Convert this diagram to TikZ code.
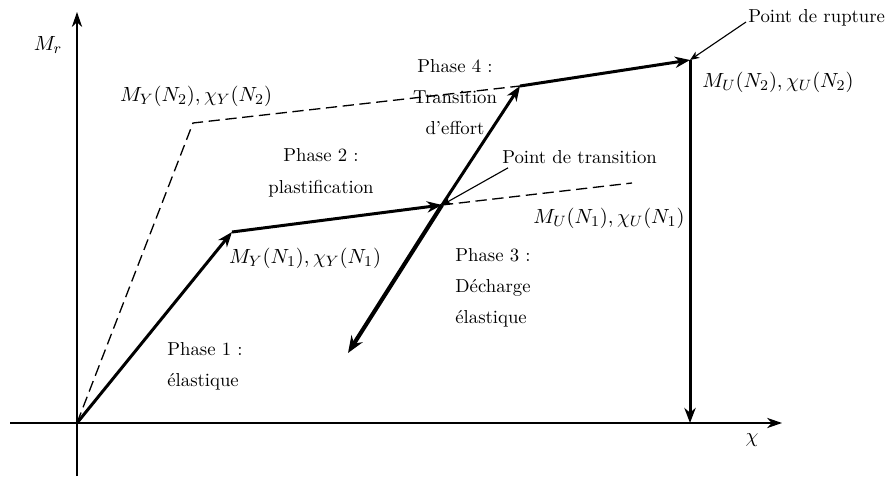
\documentclass[tikz,border=0pt]{standalone}
\usepackage{amsmath, amssymb}
\usetikzlibrary{arrows.meta}

\tikzset{
  axis/.style={line width=0.8pt,-{Stealth[length=8pt,width=5.5pt,inset=2.5pt]}},
  path/.style={line width=1.6pt,-{Stealth[length=8pt,width=6pt,inset=2.5pt]}},
  unload/.style={line width=2.2pt,-{Stealth[length=9pt,width=7pt,inset=3pt]}},
  limit/.style={line width=0.7pt,dash pattern=on 6pt off 3pt},
  note/.style={line width=0.6pt,-{Stealth[length=5pt,width=4pt,inset=1.5pt]}},
  phase/.style={inner sep=0pt},
  mlabel/.style={font=\fontsize{10.8}{13}\selectfont}
}

\begin{document}
\begin{tikzpicture}[x=0.01875cm,y=-0.01875cm]

\useasboundingbox (0,0) rectangle (888,477);

% axes
\coordinate (O) at (77,423);
\coordinate (xa) at (10,423);
\coordinate (xb) at (782,423);
\coordinate (ya) at (77,476);
\coordinate (yb) at (77,12);
\draw[axis] (xa) -- (xb);
\draw[axis] (ya) -- (yb);

% points
\coordinate (Y1) at (232,232); % M_Y(N_1)
\coordinate (T) at (442,205);  % transition
\coordinate (E1) at (632,183);
\coordinate (Y2) at (193,123); % M_Y(N_2)
\coordinate (S) at (520,86);
\coordinate (U) at (690,60);   % rupture
\coordinate (Ux) at (690,423);
\coordinate (D) at (348,353);

% N_2 and N_1 limits
\draw[limit] (O) -- (Y2) -- (S);
\draw[limit] (T) -- (E1);

% loading path
\draw[path] (O) -- (Y1);
\draw[path] (Y1) -- (T);
\draw[path] (T) -- (S);
\draw[path] (S) -- (U);
\draw[path] (U) -- (Ux);
\draw[unload] (T) -- (D);

% labels
\node[mlabel] (lMr) at (48,45) {$M_r$};
\node[mlabel] (lchi) at (752,440) {$\chi$};
\node[mlabel] (lY2) at (196,96) {$M_Y(N_2),\chi_Y(N_2)$};
\node[mlabel] (lY1) at (305,258) {$M_Y(N_1),\chi_Y(N_1)$};
\node[mlabel] (lU1) at (609,218) {$M_U(N_1),\chi_U(N_1)$};
\node[mlabel] (lU2) at (778,82) {$M_U(N_2),\chi_U(N_2)$};

\node[phase,align=left,anchor=north west] (ph1) at (167,342) {Phase 1 :\\[4.5pt] \'elastique};
\node[phase,align=center] (ph2) at (321,173) {Phase 2 :\\[5pt] plastification};
\node[phase,align=left,anchor=north west] (ph3) at (455,248) {Phase 3 :\\[4.5pt] D\'echarge\\[4.5pt] \'elastique};
\node[phase,align=center] (ph4) at (455,97) {Phase 4 :\\[4.5pt] Transition\\[4.5pt] d'effort};

\node[anchor=west,inner sep=1pt] (ptr) at (500,157) {Point de transition};
\node[anchor=west,inner sep=1pt] (prp) at (746,18) {Point de rupture};
\draw[note] (ptr.south west) ++(8,2) coordinate (ptra) -- (T);
\draw[note] (prp.west) ++(0,4) coordinate (prpa) -- (U);

\end{tikzpicture}
\end{document}
